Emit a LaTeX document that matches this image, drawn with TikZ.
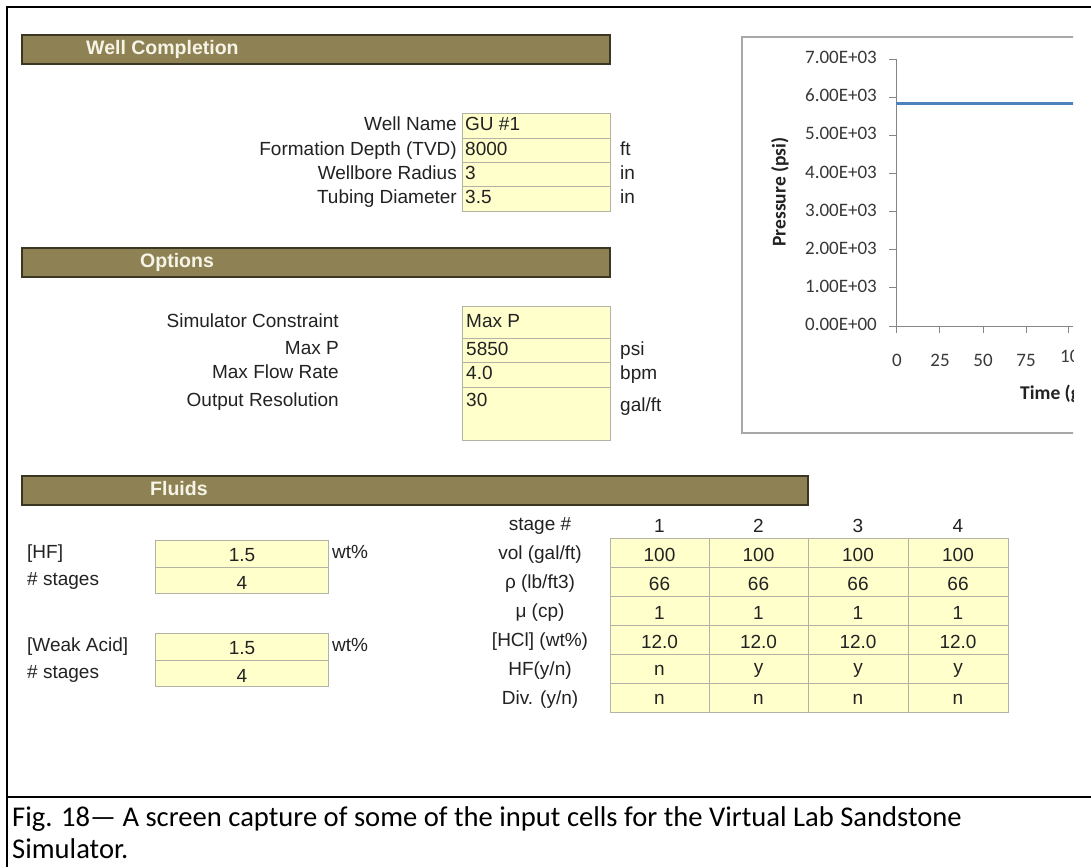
\documentclass[tikz,border=0pt]{standalone}
\usepackage{fontspec}
\setmainfont{Liberation Sans}
\newfontfamily\calibri{Carlito}
\definecolor{barfill}{RGB}{142,130,84}
\definecolor{barline}{RGB}{58,54,34}
\definecolor{bartext}{RGB}{246,244,230}
\definecolor{cellfill}{RGB}{255,255,204}
\definecolor{cellline}{RGB}{178,178,166}
\definecolor{ink}{RGB}{34,34,34}
\definecolor{series}{RGB}{79,129,189}
\definecolor{chartframe}{RGB}{168,168,168}
\definecolor{axisline}{RGB}{134,134,134}
\begin{document}
\begin{tikzpicture}[x=1pt,y=-1pt,
  sheet/.style={font=\fontsize{19}{22}\selectfont, text=ink, inner sep=0pt, yshift=-2.5pt},
  head/.style={font=\fontsize{19.5}{22}\selectfont\bfseries, text=bartext, inner sep=0pt, anchor=mid west, yshift=-2pt},
  barbox/.style={fill=barfill, draw=barline, line width=1.5pt},
  cell/.style={fill=cellfill, draw=cellline, line width=0.9pt},
  chartlbl/.style={font=\calibri\fontsize{19}{22}\selectfont, text=ink!90, inner sep=0pt, yshift=-2pt},
  chartttl/.style={font=\calibri\bfseries\fontsize{19.5}{22}\selectfont, text=ink, inner sep=0pt},
  caption/.style={font=\calibri\fontsize{28.6}{32}\selectfont, text=black, inner sep=0pt, anchor=mid west, yshift=-5pt},
  rule/.style={draw=black, line width=2.5pt}]
\useasboundingbox (0,0) rectangle (1091,867);
\fill[white] (0,0) rectangle (1091,867);

% ---------- Well Completion ----------
\path[barbox] (22,35) rectangle (610,64);
\node[head] (hwell) at (86,49.5) {Well Completion};
\foreach \a/\b in {113/138,138/162,162/186,186/211}
  \path[cell] (462,\a) rectangle (610,\b);
\node[sheet, anchor=mid east] (lname)  at (457,125) {Well Name};
\node[sheet, anchor=mid east] (ldepth) at (457,150) {Formation Depth (TVD)};
\node[sheet, anchor=mid east] (lrad)   at (457,174) {Wellbore Radius};
\node[sheet, anchor=mid east] (ltub)   at (457,198) {Tubing Diameter};
\node[sheet, anchor=mid west] (vname)  at (465,125) {GU \#1};
\node[sheet, anchor=mid west] (vdepth) at (465,150) {8000};
\node[sheet, anchor=mid west] (vrad)   at (465,174) {3};
\node[sheet, anchor=mid west] (vtub)   at (465,198) {3.5};
\node[sheet, anchor=mid west] (udepth) at (620,150) {ft};
\node[sheet, anchor=mid west] (urad)   at (620,174) {in};
\node[sheet, anchor=mid west] (utub)   at (620,198) {in};

% ---------- Options ----------
\path[barbox] (22,248) rectangle (610,277);
\node[head] (hopt) at (140,262.5) {Options};
\foreach \a/\b in {306/338,338/362,362/387,387/440}
  \path[cell] (462,\a) rectangle (610,\b);
\node[sheet, anchor=mid east] (lcons) at (339,322) {Simulator Constraint};
\node[sheet, anchor=mid east] (lmaxp) at (339,349) {Max P};
\node[sheet, anchor=mid east] (lflow) at (339,373) {Max Flow Rate};
\node[sheet, anchor=mid east] (lres)  at (339,401) {Output Resolution};
\node[sheet, anchor=mid west] (vcons) at (466,322) {Max P};
\node[sheet, anchor=mid west] (vmaxp) at (466,350) {5850};
\node[sheet, anchor=mid west] (vflow) at (466,374) {4.0};
\node[sheet, anchor=mid west] (vres)  at (466,401) {30};
\node[sheet, anchor=mid west] (umaxp) at (620,350) {psi};
\node[sheet, anchor=mid west] (uflow) at (620,374) {bpm};
\node[sheet, anchor=mid west] (ures)  at (620,406) {gal/ft};

% ---------- Fluids ----------
\path[barbox] (22,476) rectangle (808,505);
\node[head] (hfl) at (150,490.5) {Fluids};
\foreach \a/\b in {540/567,567/593,633/660,660/686}
  \path[cell] (155,\a) rectangle (328,\b);
\node[sheet, anchor=mid west] (lhf)   at (27,553) {[HF]};
\node[sheet, anchor=mid west] (lhfn)  at (27,580) {\# stages};
\node[sheet, anchor=mid west] (lwa)   at (27,646) {[Weak Acid]};
\node[sheet, anchor=mid west] (lwan)  at (27,673) {\# stages};
\node[sheet] (vhf)  at (242,553) {1.5};
\node[sheet] (vhfn) at (242,580) {4};
\node[sheet] (vwa)  at (242,646) {1.5};
\node[sheet] (vwan) at (242,673) {4};
\node[sheet, anchor=mid west] (uhf) at (332,553) {wt\%};
\node[sheet, anchor=mid west] (uwa) at (332,646) {wt\%};

% stage table
\foreach \a/\b in {538/567,567/596,596/625,625/654,654/683,683/712}
  \foreach \l/\r in {610/709,709/808,808/908,908/1008}
    \path[cell] (\l,\a) rectangle (\r,\b);
\node[sheet] (sthead) at (540,523) {stage \#};
\node[sheet] (stvol)  at (540,552) {vol (gal/ft)};
\node[sheet] (strho)  at (540,581) {ρ (lb/ft3)};
\node[sheet] (stmu)   at (540,610) {μ (cp)};
\node[sheet] (sthcl)  at (540,639) {[HCl] (wt\%)};
\node[sheet] (sthf)   at (540,668) {HF(y/n)};
\node[sheet] (stdiv)  at (540,697) {Div. (y/n)};
\foreach \c/\x/\hf in {1/659.5/n,2/758.5/y,3/858/y,4/958/y}{
  \node[sheet] (num\c) at (\x,523) {\c};
  \node[sheet] (vol\c) at (\x,552) {100};
  \node[sheet] (rho\c) at (\x,581) {66};
  \node[sheet] (mu\c)  at (\x,610) {1};
  \node[sheet] (hcl\c) at (\x,639) {12.0};
  \node[sheet] (hf\c)  at (\x,668) {\hf};
  \node[sheet] (div\c) at (\x,697) {n};
}

% ---------- pressure chart ----------
\begin{scope}
  \clip (700,20) rectangle (1073,450);
  \draw[chartframe, line width=1.5pt] (1080,37) -- (742,37) -- (742,433) -- (1080,433);
  \draw[axisline, line width=1pt] (896,59) -- (896,326) -- (1080,326);
  \foreach \i in {0,...,7}{
    \draw[axisline, line width=1pt] (889,{326-\i*38.14}) -- (896,{326-\i*38.14});
  }
  \foreach \i in {1,...,7}
    \node[chartlbl, anchor=mid east] (yt\i) at (877,{326-\i*38.14}) {\i.00E+03};
  \node[chartlbl, anchor=mid east] (yt0) at (877,326) {0.00E+00};
  \foreach \x in {896,939,983,1026,1068}
    \draw[axisline, line width=1pt] (\x,326) -- (\x,333);
  \node[chartlbl] (xt0)  at (897,358) {0};
  \node[chartlbl] (xt1)  at (940,358) {25};
  \node[chartlbl] (xt2)  at (983,358) {50};
  \node[chartlbl] (xt3)  at (1026,358) {75};
  \node[chartlbl, anchor=mid west] (xt4)  at (1060,358) {10};
  \node[chartttl, anchor=mid west] (xttl) at (1020,397) {Time (g};
  \node[chartttl, rotate=90] (yttl) at (780,192) {Pressure (psi)};
  \draw[series, line width=3pt] (896,103) -- (1080,103);
\end{scope}

% ---------- page frame and caption ----------
\draw[rule] (7,6) -- (7,867);
\draw[rule] (6,7) -- (1091,7);
\draw[rule] (7,797) -- (1091,797);
\node[caption] (cap1) at (12,819) {Fig. 18— A screen capture of some of the input cells for the Virtual Lab Sandstone};
\node[caption] (cap2) at (12,851) {Simulator.};
\end{tikzpicture}
\end{document}
